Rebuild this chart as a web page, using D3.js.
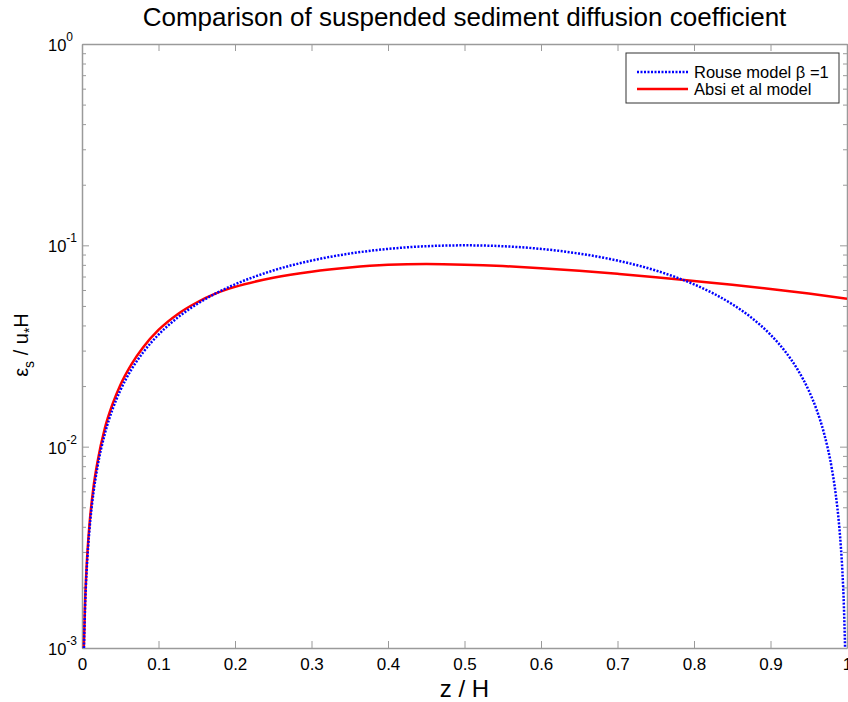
<!DOCTYPE html>
<html>
<head>
<meta charset="utf-8">
<script src="https://cdn.jsdelivr.net/npm/d3@7"></script>
<style>
  body { margin: 0; background: #fff; }
  text { font-family: "Liberation Sans", Arial, Helvetica, sans-serif; fill: #000; }
</style>
</head>
<body>
<svg id="chart" width="848" height="702"></svg>
<script>
// values
const zRouse = [0.0025, 0.004, 0.006, 0.008, 0.01, 0.015, 0.02, 0.03, 0.04, 0.05, 0.065, 0.08, 0.1, 0.125, 0.15, 0.175, 0.2, 0.25, 0.3, 0.35, 0.4, 0.45, 0.5,
  0.55, 0.6, 0.65, 0.7, 0.75, 0.8, 0.825, 0.85, 0.875, 0.9, 0.92, 0.935, 0.95, 0.96, 0.97, 0.98, 0.985, 0.99, 0.992, 0.994, 0.996, 0.9975];
const epsRouse = [0.001, 0.00159, 0.00239, 0.00317, 0.00396, 0.00591, 0.00784, 0.01164, 0.01536, 0.019, 0.02431, 0.02944, 0.036, 0.04375, 0.051, 0.05775, 0.064, 0.075, 0.084, 0.091, 0.096, 0.099, 0.1,
  0.099, 0.096, 0.091, 0.084, 0.075, 0.064, 0.05775, 0.051, 0.04375, 0.036, 0.02944, 0.02431, 0.019, 0.01536, 0.01164, 0.00784, 0.00591, 0.00396, 0.00317, 0.00239, 0.00159, 0.001];

const zAbsi = [0.0024, 0.004, 0.006, 0.008, 0.01, 0.015, 0.02, 0.03, 0.04, 0.05, 0.065, 0.08, 0.1, 0.125, 0.15, 0.175, 0.2, 0.25, 0.3, 0.35, 0.4, 0.45, 0.5,
  0.55, 0.6, 0.65, 0.7, 0.75, 0.8, 0.85, 0.9, 0.95, 1.0];
const epsAbsi = [0.001, 0.00168, 0.00252, 0.00336, 0.0042, 0.0063, 0.0083, 0.0124, 0.0163, 0.0202, 0.0258, 0.0312, 0.038, 0.0455, 0.052, 0.0577, 0.0622, 0.069, 0.074, 0.0776, 0.0800, 0.0808, 0.0802,
  0.0789, 0.0770, 0.0748, 0.0722, 0.0695, 0.0665, 0.0637, 0.0607, 0.0576, 0.0543];

const xTicks = [0, 0.1, 0.2, 0.3, 0.4, 0.5, 0.6, 0.7, 0.8, 0.9, 1];
const xTickLabels = ["0", "0.1", "0.2", "0.3", "0.4", "0.5", "0.6", "0.7", "0.8", "0.9", "1"];
const yDecades = [1e-3, 1e-2, 1e-1, 1];
const yExponents = ["-3", "-2", "-1", "0"];
const seriesNames = ["Rouse model \u03b2 =1", "Absi et al model"];
const seriesColors = ["#0000ff", "#ff0000"];

const plotLeft = 82, plotRight = 847, plotTop = 44, plotBottom = 648;
const axisColor = "#9a9a9a";

const svg = d3.select("#chart");

const x = d3.scaleLinear().domain([0, 1]).range([plotLeft, plotRight]);
const y = d3.scaleLog().domain([1e-3, 1]).range([plotBottom, plotTop]);

// minor ticks 2..9 in every decade
let minorTicks = [];
for (let d of yDecades.slice(0, 3)) {
  for (let k = 2; k <= 9; k++) minorTicks.push(d * k);
}

svg.append("defs").append("clipPath").attr("id", "plotclip")
  .append("rect").attr("x", plotLeft).attr("y", plotTop)
  .attr("width", plotRight - plotLeft).attr("height", plotBottom - plotTop);

// axes
function styleAxis(g) {
  g.selectAll(".domain").attr("stroke", axisColor).attr("stroke-width", 1.5);
  g.selectAll(".tick line").attr("stroke", axisColor).attr("stroke-width", 1);
}

svg.append("g").attr("transform", `translate(0,${plotBottom})`)
  .call(d3.axisBottom(x).tickValues(xTicks).tickSize(-7).tickSizeOuter(0)
    .tickFormat((d, i) => xTickLabels[i]))
  .call(styleAxis)
  .call(g => g.selectAll(".tick text").attr("font-size", 17).attr("dy", null).attr("y", 22)
    .attr("font-family", "Liberation Sans, Arial, sans-serif").attr("fill", "#000"));

svg.append("g").attr("transform", `translate(0,${plotTop})`)
  .call(d3.axisTop(x).tickValues(xTicks).tickSize(-7).tickSizeOuter(0).tickFormat(""))
  .call(styleAxis);

svg.append("g").attr("transform", `translate(${plotLeft},0)`)
  .call(d3.axisLeft(y).tickValues(yDecades).tickSize(-7).tickSizeOuter(0).tickFormat(""))
  .call(styleAxis);
svg.append("g").attr("transform", `translate(${plotLeft},0)`)
  .call(d3.axisLeft(y).tickValues(minorTicks).tickSize(-4).tickSizeOuter(0).tickFormat(""))
  .call(styleAxis).call(g => g.select(".domain").remove());

svg.append("g").attr("transform", `translate(${plotRight},0)`)
  .call(d3.axisRight(y).tickValues(yDecades).tickSize(-7).tickSizeOuter(0).tickFormat(""))
  .call(styleAxis);
svg.append("g").attr("transform", `translate(${plotRight},0)`)
  .call(d3.axisRight(y).tickValues(minorTicks).tickSize(-4).tickSizeOuter(0).tickFormat(""))
  .call(styleAxis).call(g => g.select(".domain").remove());

// y tick labels 10^n
yDecades.forEach((d, i) => {
  let t = svg.append("text").attr("x", 48).attr("y", y(d) + 7).attr("font-size", 16.5);
  t.append("tspan").text("10");
  t.append("tspan").attr("dy", -10).attr("font-size", 12).text(yExponents[i]);
});

// curves
const line = d3.line().x(d => x(d[0])).y(d => y(d[1])).curve(d3.curveMonotoneX);
const plot = svg.append("g").attr("clip-path", "url(#plotclip)");

plot.append("path")
  .datum(zAbsi.map((z, i) => [z, epsAbsi[i]]))
  .attr("d", line).attr("fill", "none")
  .attr("stroke", seriesColors[1]).attr("stroke-width", 2.5);

plot.append("path")
  .datum(zRouse.map((z, i) => [z, epsRouse[i]]))
  .attr("d", line).attr("fill", "none")
  .attr("stroke", seriesColors[0]).attr("stroke-width", 2.5)
  .attr("stroke-dasharray", "2,1.5");

// title and labels
svg.append("text").attr("x", (plotLeft + plotRight) / 2).attr("y", 26)
  .attr("text-anchor", "middle").attr("font-size", 26)
  .text("Comparison of suspended sediment diffusion coefficient");

svg.append("text").attr("x", (plotLeft + plotRight) / 2).attr("y", 697)
  .attr("text-anchor", "middle").attr("font-size", 24)
  .text("z / H");

let yl = svg.append("text").attr("transform", "translate(28,345) rotate(-90)")
  .attr("text-anchor", "middle").attr("font-size", 20);
yl.append("tspan").text("\u03b5");
yl.append("tspan").attr("dy", 6).attr("font-size", 14).text("s");
yl.append("tspan").attr("dy", -6).text(" / u");
yl.append("tspan").attr("dy", 6).attr("font-size", 14).text("*");
yl.append("tspan").attr("dy", -6).text("H");

// legend
const legend = svg.append("g");
legend.append("rect").attr("x", 626).attr("y", 53).attr("width", 213).attr("height", 50)
  .attr("fill", "#fff").attr("stroke", "#333").attr("stroke-width", 1);
seriesNames.forEach((name, i) => {
  let ly = 72 + i * 17;
  legend.append("line").attr("x1", 637).attr("x2", 688).attr("y1", ly).attr("y2", ly)
    .attr("stroke", seriesColors[i]).attr("stroke-width", 2.5)
    .attr("stroke-dasharray", i === 0 ? "2,1.5" : null);
  legend.append("text").attr("x", 694).attr("y", ly + 5.5).attr("font-size", 16.5).text(name);
});
</script>
</body>
</html>
